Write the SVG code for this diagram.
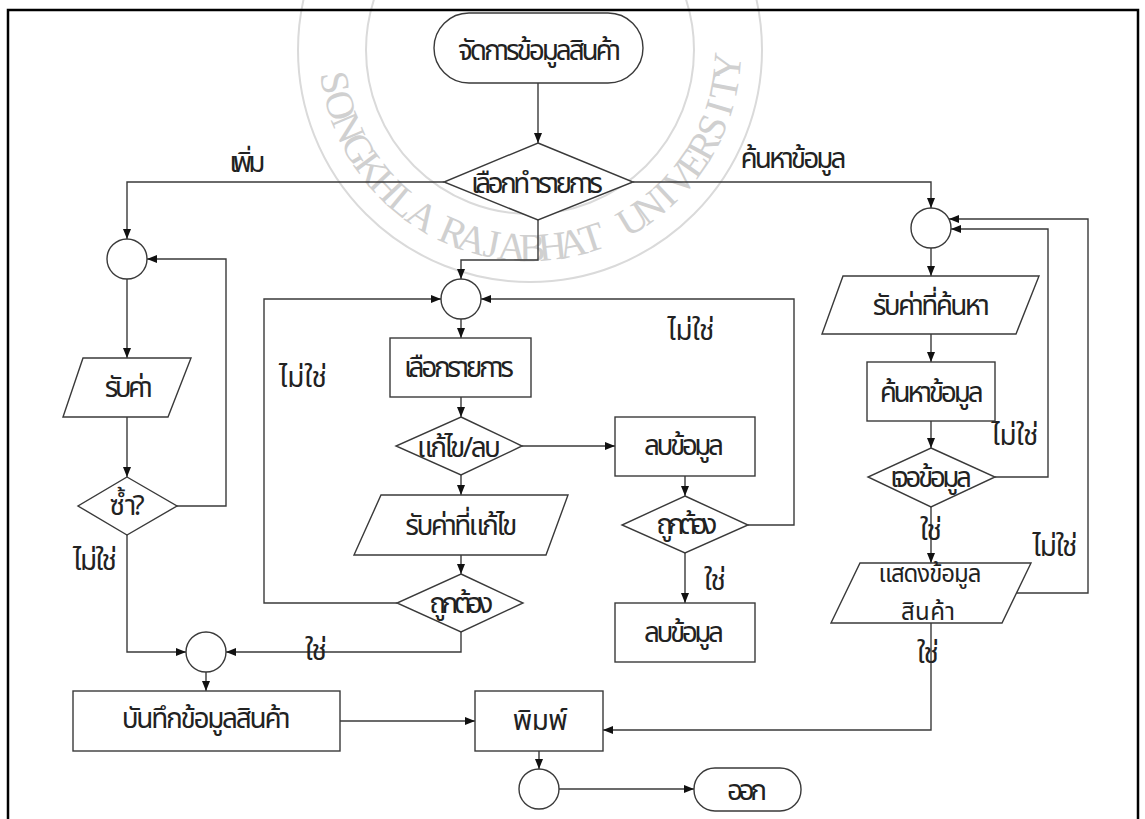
<svg xmlns="http://www.w3.org/2000/svg" width="1145" height="819" viewBox="0 0 1145 819">
<style>
.wm{fill:none;stroke:#dadada;stroke-width:2}
.wmt{fill:#d0d0d0;font-family:"Liberation Serif",serif;font-size:40px;text-anchor:middle}
.s{fill:#fff;stroke:#3a3a3a;stroke-width:1.4}
.c{fill:none;stroke:#3a3a3a;stroke-width:1.4}
.t{font-family:"Noto Sans Thai","Noto Serif Thai","Noto Sans","DejaVu Sans",sans-serif;font-size:28px;fill:#222;text-anchor:middle}
.t2{font-size:24px}
.frame{fill:none;stroke:#000;stroke-width:2.5}
</style>
<defs>
<marker id="ah" markerWidth="11" markerHeight="9" refX="10" refY="4" orient="auto" markerUnits="userSpaceOnUse">
<path d="M0,0 L10,4 L0,8 z" fill="#111"/>
</marker>
</defs>
<rect width="1145" height="819" fill="#fff"/>
<g id="watermark">
<circle class="wm" cx="530" cy="50" r="232"/>
<circle class="wm" cx="530" cy="50" r="164"/>
<text class="wmt" dy=".35em" transform="translate(335.7,82.5) rotate(80.5)">S</text>
<text class="wmt" dy=".35em" transform="translate(340.9,105.3) rotate(73.7)">O</text>
<text class="wmt" dy=".35em" transform="translate(348.8,127.3) rotate(66.9)">N</text>
<text class="wmt" dy=".35em" transform="translate(359.2,148.2) rotate(60.1)">G</text>
<text class="wmt" dy=".35em" transform="translate(372.0,167.7) rotate(53.3)">K</text>
<text class="wmt" dy=".35em" transform="translate(387.1,185.6) rotate(46.5)">H</text>
<text class="wmt" dy=".35em" transform="translate(404.2,201.6) rotate(39.7)">L</text>
<text class="wmt" dy=".35em" transform="translate(423.0,215.4) rotate(32.9)">A</text>
<text class="wmt" dy=".35em" transform="translate(453.7,231.6) rotate(22.8)">R</text>
<text class="wmt" dy=".35em" transform="translate(472.6,238.5) rotate(16.9)">A</text>
<text class="wmt" dy=".35em" transform="translate(492.1,243.3) rotate(11.1)">J</text>
<text class="wmt" dy=".35em" transform="translate(512.1,246.2) rotate(5.2)">A</text>
<text class="wmt" dy=".35em" transform="translate(532.2,247.0) rotate(-0.6)">B</text>
<text class="wmt" dy=".35em" transform="translate(552.3,245.7) rotate(-6.5)">H</text>
<text class="wmt" dy=".35em" transform="translate(572.2,242.4) rotate(-12.4)">A</text>
<text class="wmt" dy=".35em" transform="translate(591.6,237.1) rotate(-18.2)">T</text>
<text class="wmt" dy=".35em" transform="translate(632.0,218.5) rotate(-31.2)">U</text>
<text class="wmt" dy=".35em" transform="translate(649.1,206.9) rotate(-37.2)">N</text>
<text class="wmt" dy=".35em" transform="translate(664.8,193.7) rotate(-43.2)">I</text>
<text class="wmt" dy=".35em" transform="translate(679.0,178.8) rotate(-49.2)">V</text>
<text class="wmt" dy=".35em" transform="translate(691.7,162.5) rotate(-55.2)">E</text>
<text class="wmt" dy=".35em" transform="translate(702.6,145.1) rotate(-61.2)">R</text>
<text class="wmt" dy=".35em" transform="translate(711.5,126.5) rotate(-67.1)">S</text>
<text class="wmt" dy=".35em" transform="translate(718.5,107.2) rotate(-73.1)">I</text>
<text class="wmt" dy=".35em" transform="translate(723.5,87.2) rotate(-79.1)">T</text>
<text class="wmt" dy=".35em" transform="translate(726.3,66.8) rotate(-85.1)">Y</text>
</g>
<path class="frame" d="M8,830 V10 H1138 V830"/>
<g id="connectors">
<path class="c" d="M538,83 V143" marker-end="url(#ah)"/>
<path class="c" d="M444,182 H127 V239" marker-end="url(#ah)"/>
<path class="c" d="M633,182 H931 V208" marker-end="url(#ah)"/>
<path class="c" d="M538,220 V260 H461 V279" marker-end="url(#ah)"/>
<path class="c" d="M127,279 V358" marker-end="url(#ah)"/>
<path class="c" d="M127,417 V477" marker-end="url(#ah)"/>
<path class="c" d="M177,506 H226 V259 H147" marker-end="url(#ah)"/>
<path class="c" d="M127,535 V652 H186" marker-end="url(#ah)"/>
<path class="c" d="M461,319 V338" marker-end="url(#ah)"/>
<path class="c" d="M461,397 V417" marker-end="url(#ah)"/>
<path class="c" d="M461,475 V495" marker-end="url(#ah)"/>
<path class="c" d="M461,555 V574" marker-end="url(#ah)"/>
<path class="c" d="M397,603 H264 V299 H441" marker-end="url(#ah)"/>
<path class="c" d="M461,632 V652 H226" marker-end="url(#ah)"/>
<path class="c" d="M522,446 H615" marker-end="url(#ah)"/>
<path class="c" d="M685,476 V496" marker-end="url(#ah)"/>
<path class="c" d="M748,525 H794 V299 H481" marker-end="url(#ah)"/>
<path class="c" d="M685,553 V603" marker-end="url(#ah)"/>
<path class="c" d="M931,248 V276" marker-end="url(#ah)"/>
<path class="c" d="M931,334 V362" marker-end="url(#ah)"/>
<path class="c" d="M931,421 V448" marker-end="url(#ah)"/>
<path class="c" d="M995,477 H1048 V229 H951" marker-end="url(#ah)"/>
<path class="c" d="M931,507 V563" marker-end="url(#ah)"/>
<path class="c" d="M1016.5,593 H1088 V219 H949" marker-end="url(#ah)"/>
<path class="c" d="M931,623 V730 H603" marker-end="url(#ah)"/>
<path class="c" d="M340,721 H475" marker-end="url(#ah)"/>
<path class="c" d="M206,672 V691" marker-end="url(#ah)"/>
<path class="c" d="M539,751 V769" marker-end="url(#ah)"/>
<path class="c" d="M559,789 H694" marker-end="url(#ah)"/>
</g>
<g id="labels">
<text class="t" x="247" y="172" textLength="36">เพิ่ม</text>
<text class="t" x="792" y="168" textLength="106">ค้นหาข้อมูล</text>
<text class="t" x="95" y="570" textLength="44">ไม่ใช่</text>
<text class="t" x="303" y="387" textLength="48">ไม่ใช่</text>
<text class="t" x="316" y="660" textLength="22">ใช่</text>
<text class="t" x="691" y="340" textLength="47">ไม่ใช่</text>
<text class="t" x="715" y="590" textLength="22">ใช่</text>
<text class="t" x="1015" y="445" textLength="47">ไม่ใช่</text>
<text class="t" x="931" y="540" textLength="22">ใช่</text>
<text class="t" x="1055" y="556" textLength="45">ไม่ใช่</text>
<text class="t" x="928" y="663" textLength="22">ใช่</text>
</g>
<g id="n-start"><rect class="s" x="434" y="13" width="209" height="70" rx="35"/><text class="t" x="538" y="60" textLength="163">จัดการข้อมูลสินค้า</text></g>
<g id="n-choose"><polygon class="s" points="538,143 633,182 538,220 444,182"/><text class="t" x="537" y="193" textLength="132">เลือกทำรายการ</text></g>
<g id="n-j-add"><circle class="s" cx="127" cy="259" r="20"/></g>
<g id="n-input"><polygon class="s" points="83,358 191,358 168,417 63,417"/><text class="t" x="127" y="397" textLength="48">รับค่า</text></g>
<g id="n-dup"><polygon class="s" points="127,477 177,506 127,535 78,506"/><text class="t" x="125" y="515" textLength="35">ซ้ำ?</text></g>
<g id="n-j-save"><circle class="s" cx="206" cy="652" r="20"/></g>
<g id="n-save"><rect class="s" x="73" y="691" width="267" height="60"/><text class="t" x="205" y="728" textLength="169">บันทึกข้อมูลสินค้า</text></g>
<g id="n-j-edit"><circle class="s" cx="461" cy="299" r="20"/></g>
<g id="n-select"><rect class="s" x="390" y="338" width="141" height="59"/><text class="t" x="459" y="377" textLength="110">เลือกรายการ</text></g>
<g id="n-editdel"><polygon class="s" points="461,417 522,446 461,475 396,446"/><text class="t" x="459" y="457" textLength="84">แก้ไข/ลบ</text></g>
<g id="n-editinput"><polygon class="s" points="381,495 568,495 546,555 354,555"/><text class="t" x="460" y="535" textLength="112">รับค่าที่แก้ไข</text></g>
<g id="n-ok1"><polygon class="s" points="461,574 523,603 461,632 397,603"/><text class="t" x="459" y="613" textLength="64">ถูกต้อง</text></g>
<g id="n-del1"><rect class="s" x="615" y="417" width="140" height="59"/><text class="t" x="684" y="455" textLength="80">ลบข้อมูล</text></g>
<g id="n-ok2"><polygon class="s" points="685,496 748,525 685,553 622,525"/><text class="t" x="684" y="534" textLength="61">ถูกต้อง</text></g>
<g id="n-del2"><rect class="s" x="615" y="603" width="140" height="59"/><text class="t" x="684" y="642" textLength="80">ลบข้อมูล</text></g>
<g id="n-j-search"><circle class="s" cx="931" cy="228" r="20"/></g>
<g id="n-searchinput"><polygon class="s" points="843,276 1039,276 1016,334 822,334"/><text class="t" x="930" y="315" textLength="117">รับค่าที่ค้นหา</text></g>
<g id="n-search"><rect class="s" x="867" y="362" width="128" height="59"/><text class="t" x="930" y="402" textLength="104">ค้นหาข้อมูล</text></g>
<g id="n-found"><polygon class="s" points="931,448 995,477 931,507 868,477"/><text class="t" x="931" y="487" textLength="82">เจอข้อมูล</text></g>
<g id="n-show"><polygon class="s" points="860,563 1031,563 1002,623 831,623"/><text class="t t2" x="930" y="582" textLength="103">แสดงข้อมูล</text><text class="t t2" x="928" y="620" textLength="54">สินค้า</text></g>
<g id="n-print"><rect class="s" x="475" y="691" width="128" height="60"/><text class="t" x="540" y="730" textLength="55">พิมพ์</text></g>
<g id="n-j-end"><circle class="s" cx="539" cy="789" r="20"/></g>
<g id="n-exit"><rect class="s" x="694" y="768" width="107" height="43" rx="21"/><text class="t" x="747" y="800" textLength="40">ออก</text></g>
</svg>
